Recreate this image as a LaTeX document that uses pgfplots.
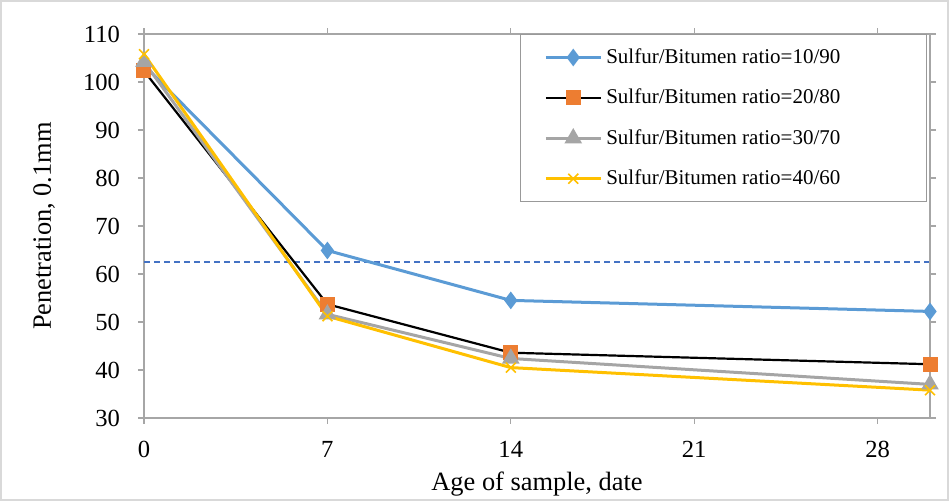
\documentclass[border=0pt]{standalone}
\usepackage{pgfplots}
\pgfplotsset{compat=1.18}
\usepackage{fontspec}
\setmainfont{Liberation Serif}
\definecolor{cblue}{HTML}{5B9BD5}
\definecolor{corange}{HTML}{ED7D31}
\definecolor{cgray}{HTML}{A5A5A5}
\definecolor{cyellow}{HTML}{FFC000}
\definecolor{cdash}{HTML}{4472C4}
\definecolor{caxis}{HTML}{A6A6A6}
\definecolor{cframe}{HTML}{D9D9D9}
\begin{document}
\begin{tikzpicture}
\draw[cframe, line width=0.8pt] (-71.6pt,-41.1pt) rectangle (402.1pt,208.6pt);
\begin{axis}[
  at={(0,0)}, anchor=south west,
  scale only axis, width=393pt, height=192pt,
  xmin=0, xmax=30, ymin=30, ymax=110,
  xtick={0,7,14,21,28}, ytick={30,40,...,110},
  tick align=outside, major tick length=3pt,
  tick style={caxis, line width=0.6pt},
  axis line style={caxis, line width=0.6pt},
  /pgf/number format/assume math mode=true,
  tick label style={font=\fontsize{12.3}{14}\selectfont},
  xticklabel style={yshift=-5pt},
  yticklabel style={xshift=-5.5pt},
  xlabel={Age of sample, date},
  ylabel={Penetration, 0.1mm},
  label style={font=\fontsize{13.2}{15}\selectfont, inner sep=0.5pt},
  xlabel style={at={(axis description cs:0.5,-0.173)}, anchor=center},
  ylabel style={at={(axis description cs:-0.127,0.5)}, anchor=center},
  clip=false,
  legend cell align=left,
  legend style={at={(axis description cs:0.996,1)}, anchor=north east,
    draw=gray!80, line width=0.6pt, font=\fontsize{10.5}{12}\selectfont,
    row sep=7.3pt, inner xsep=12pt, inner ysep=5pt},
  legend image code/.code={\draw[mark repeat=2,mark phase=2] plot coordinates {(0pt,0pt) (13.75pt,0pt) (27.5pt,0pt)};},
]
\addplot[cdash, line width=1pt, dash pattern=on 3pt off 2pt, forget plot] coordinates {(0,62.4) (30,62.4)};
\addplot[cblue, line width=1.5pt, mark=diamond*, mark size=3.2pt, mark options={solid}] coordinates {
  (0,103.5) (7,64.9) (14,54.5) (30,52.2)};
\addlegendentry{\makebox[146pt][l]{Sulfur/Bitumen ratio=10/90}}
\addplot[black, line width=1.1pt, mark=square*, mark size=3.2pt, mark options={fill=corange, draw=corange}] coordinates {
  (0,102.3) (7,53.7) (14,43.6) (30,41.2)};
\addlegendentry{\makebox[146pt][l]{Sulfur/Bitumen ratio=20/80}}
\addplot[cgray, line width=1.5pt, mark=triangle*, mark size=3.6pt] coordinates {
  (0,104.2) (7,51.6) (14,42.4) (30,37.0)};
\addlegendentry{\makebox[146pt][l]{Sulfur/Bitumen ratio=30/70}}
\addplot[cyellow, line width=1.5pt, mark=x, mark size=3.5pt, mark options={line width=0.8pt}] coordinates {
  (0,105.8) (7,51.2) (14,40.5) (30,35.8)};
\addlegendentry{\makebox[146pt][l]{Sulfur/Bitumen ratio=40/60}\rule[-12.5pt]{0pt}{0pt}}
\draw[gray!130!black, line width=0.8pt] (rel axis cs:0,1) -- (rel axis cs:1,1) -- (rel axis cs:1,0);
\end{axis}
\end{tikzpicture}
\end{document}
